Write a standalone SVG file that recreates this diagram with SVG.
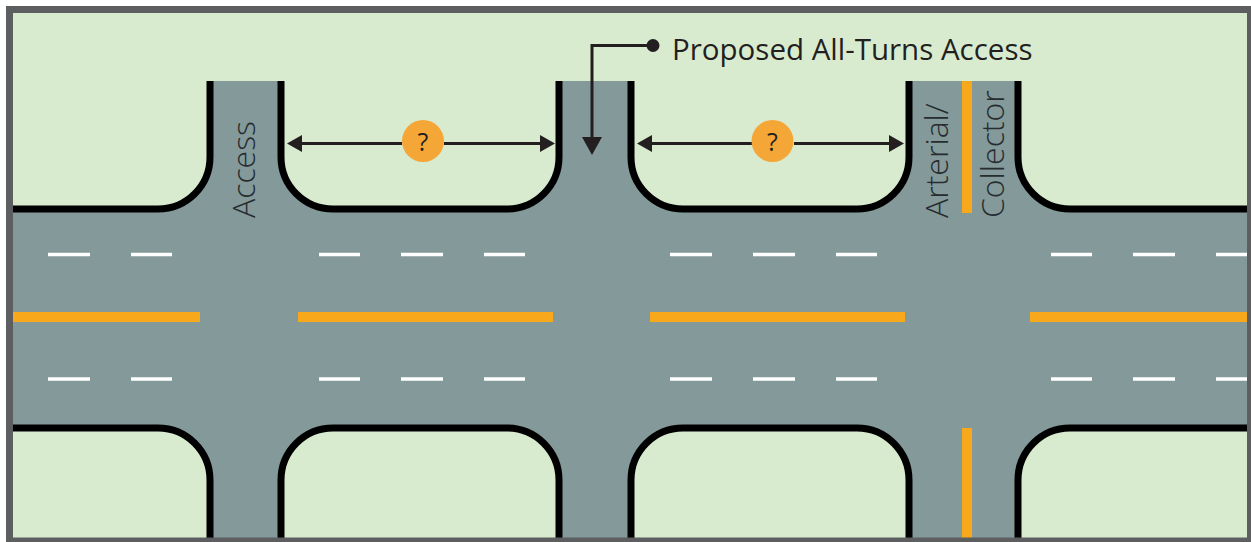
<svg xmlns="http://www.w3.org/2000/svg" width="1251" height="542" viewBox="0 0 1251 542">
<style>
.curb{fill:none;stroke:#000;stroke-width:7}
.road{fill:#84999a}
.yl{fill:#f7a81b}
.wh{fill:#fff}
.badge{fill:#f4a637}
.dim{fill:none;stroke:#231f20;stroke-width:3}
.ah{fill:#231f20}
.t{font-family:"Open Sans",sans-serif;fill:#231f20}
.rd{font-family:"Open Sans",sans-serif;fill:#262c2f;font-size:32px;font-weight:300}
</style>
<rect width="1251" height="542" fill="#fff"/>
<rect x="13" y="13" width="1234" height="525" fill="#d9ebcf"/>
<g id="road">
<path class="road" d="M13 209H158A52 52 0 0 0 210 157V81H281V157A52 52 0 0 0 333 209H507A52 52 0 0 0 559 157V81H631V157A52 52 0 0 0 683 209H857A52 52 0 0 0 909 157V81H1018V157A52 52 0 0 0 1070 209H1247V428H1070A52 52 0 0 0 1018 480V538H909V480A52 52 0 0 0 857 428H683A52 52 0 0 0 631 480V538H559V480A52 52 0 0 0 507 428H333A52 52 0 0 0 281 480V538H210V480A52 52 0 0 0 158 428H13Z"/>
</g>
<g id="curbs">
<path class="curb" d="M13 209H158A52 52 0 0 0 210 157V81M281 81V157A52 52 0 0 0 333 209H507A52 52 0 0 0 559 157V81M631 81V157A52 52 0 0 0 683 209H857A52 52 0 0 0 909 157V81M1018 81V157A52 52 0 0 0 1070 209H1247"/>
<path class="curb" d="M13 428H158A52 52 0 0 1 210 480V538M281 538V480A52 52 0 0 1 333 428H507A52 52 0 0 1 559 480V538M631 538V480A52 52 0 0 1 683 428H857A52 52 0 0 1 909 480V538M1018 538V480A52 52 0 0 1 1070 428H1247"/>
</g>
<g id="markings">
<rect class="yl" x="13" y="312" width="187" height="10"/>
<rect class="yl" x="298" y="312" width="255" height="10"/>
<rect class="yl" x="650" y="312" width="255" height="10"/>
<rect class="yl" x="1030" y="312" width="217" height="10"/>
<rect class="yl" x="962" y="81" width="10" height="132"/>
<rect class="yl" x="962" y="428" width="10" height="110"/>
<path fill="none" stroke="#fff" stroke-width="3.500" d="M48 254.500H90M131 254.500H172M319 254.500H360M401 254.500H443M484 254.500H525M670 254.500H712M753 254.500H795M836 254.500H877M1051 254.500H1092M1133 254.500H1175M1216 254.500H1247M48 379H90M131 379H172M319 379H360M401 379H443M484 379H525M670 379H712M753 379H795M836 379H877M1051 379H1092M1133 379H1175M1216 379H1247"/>
</g>
<g id="connectors">
<path class="dim" d="M300 143.500H402M444 143.500H541"/>
<path class="ah" d="M287 143.500L302 135V152ZM555 143.500L540 135V152Z"/>
<path class="dim" d="M650 143.500H752M794 143.500H891"/>
<path class="ah" d="M637 143.500L652 135V152ZM904 143.500L889 135V152Z"/>
<path class="dim" d="M653 45.500H592V140"/>
<path class="ah" d="M582 137H602L592 155Z"/>
<circle class="ah" cx="653" cy="45.500" r="6.500"/>
</g>
<g id="node-q1"><circle class="badge" cx="423" cy="141" r="21"/><text class="t" x="423" y="151" font-size="25" text-anchor="middle">?</text></g>
<g id="node-q2"><circle class="badge" cx="772.500" cy="141" r="21"/><text class="t" x="772.500" y="151" font-size="25" text-anchor="middle">?</text></g>
<g id="node-label"><text class="t" x="672" y="60" font-size="29.500">Proposed All-Turns Access</text></g>
<g id="node-access"><text class="rd" transform="translate(255 218) rotate(-90)">Access</text></g>
<g id="node-arterial"><text class="rd" transform="translate(948 218) rotate(-90)">Arterial/</text></g>
<g id="node-collector"><text class="rd" transform="translate(1004 218) rotate(-90)">Collector</text></g>
<path id="frame" fill="none" stroke="#5c5e60" stroke-width="7" d="M9.500 9.500H1250.500V541H9.500Z"/>
</svg>
